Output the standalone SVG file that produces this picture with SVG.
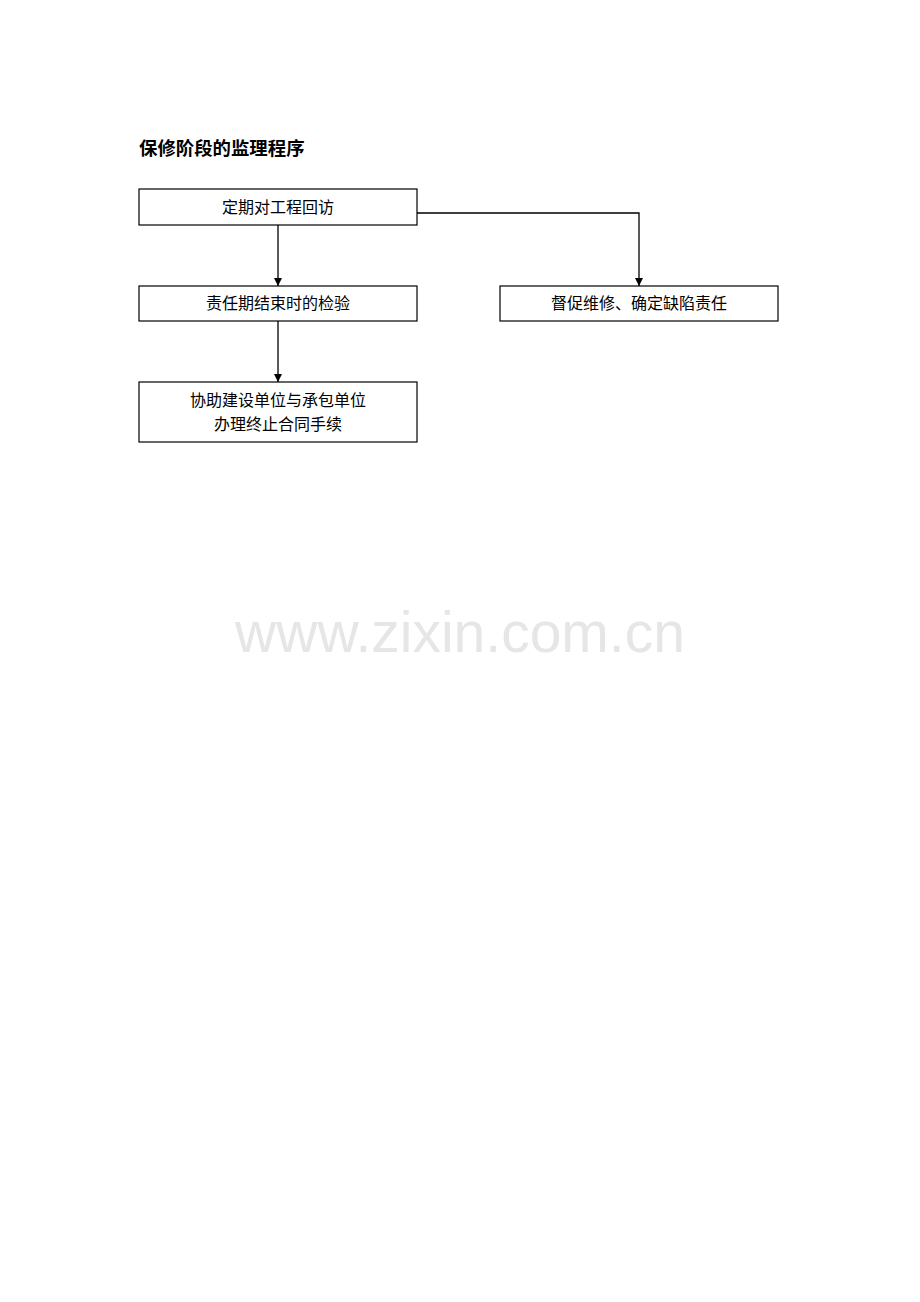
<svg xmlns="http://www.w3.org/2000/svg" width="920" height="1302" viewBox="0 0 920 1302">
<style>
.box{fill:#fff;stroke:#000;stroke-width:1.2}
.t{font-family:"Liberation Serif","Noto Sans CJK SC",serif;font-size:16px;fill:#000;text-anchor:middle}
.title{font-family:"Liberation Sans","Noto Sans CJK SC",sans-serif;font-size:18.4px;font-weight:bold;fill:#000}
.c{fill:none;stroke:#000;stroke-width:1.3}
.wm{font-family:"Liberation Sans",Arial,sans-serif;font-size:57px;fill:#e6e6e6;text-anchor:middle}
</style>
<defs>
<marker id="ah" viewBox="0 0 10 10" refX="10" refY="5" markerWidth="8" markerHeight="8" markerUnits="userSpaceOnUse" orient="auto">
<path d="M0,0 L10,5 L0,10 Z" fill="#000"/>
</marker>
</defs>
<rect width="920" height="1302" fill="#fff"/>
<text class="wm" x="460" y="652">www.zixin.com.cn</text>
<text class="title" x="139" y="155">保修阶段的监理程序</text>
<g id="connectors">
<path class="c" d="M278,225 V286" marker-end="url(#ah)"/>
<path class="c" d="M278,321 V382" marker-end="url(#ah)"/>
<path class="c" d="M417,213 H639 V286" marker-end="url(#ah)"/>
</g>
<g id="n1"><rect class="box" x="139" y="189" width="278" height="36"/><text class="t" x="278" y="213">定期对工程回访</text></g>
<g id="n2"><rect class="box" x="139" y="286" width="278" height="35"/><text class="t" x="278" y="309">责任期结束时的检验</text></g>
<g id="n3"><rect class="box" x="139" y="382" width="278" height="60"/><text class="t" x="278" y="406">协助建设单位与承包单位</text><text class="t" x="278" y="430">办理终止合同手续</text></g>
<g id="n4"><rect class="box" x="500" y="286" width="278" height="35"/><text class="t" x="639" y="309">督促维修、确定缺陷责任</text></g>
</svg>
